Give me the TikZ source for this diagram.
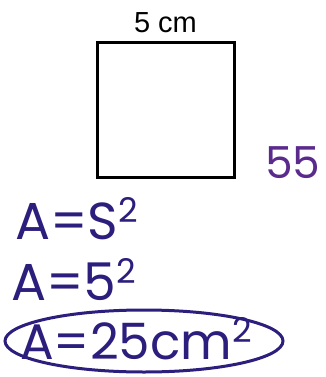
\documentclass[tikz,border=0pt]{standalone}
\usepackage{fontspec}
\setmainfont{Liberation Sans}
\newfontfamily\handfont{Poppins}
\usetikzlibrary{positioning}
\definecolor{inkblue}{HTML}{2B1E7C}
\definecolor{inkpurple}{HTML}{5A2A8C}
\newcommand{\hsup}[1]{{\fontsize{34}{36}\selectfont\raisebox{17pt}{#1}}}
\tikzset{sidebox/.style={draw,line width=3pt,minimum width=137pt,minimum height=134pt,inner sep=0pt}}
\tikzset{label/.style={font=\fontsize{29}{31}\selectfont,inner sep=0pt}}
\tikzset{hand/.style={text=inkblue,font=\handfont\fontsize{52}{56}\selectfont,inner sep=0pt,anchor=west}}

\begin{document}
\begin{tikzpicture}[x=1pt,y=-1pt]
    \useasboundingbox (0,0) rectangle (325,377);
    \node[sidebox] (sq) at (165.5,110) {};
    \node[label,above=9pt of sq] (side) {5 cm};

    \node[hand,text=inkpurple,font=\handfont\fontsize{44}{48}\selectfont] (note) at (265,163) {55};

    \node[hand] (eq1) at (15,219) {A=S\hsup{2}};
    \node[hand] (eq2) at (11,280) {A=5\hsup{2}};
    \node[hand,font=\handfont\fontsize{50}{53}\selectfont] (eq3) at (20,339) {A=25cm\hsup{2}};

    \draw[inkblue,line width=3pt] (144,341) ellipse (139pt and 31pt);
\end{tikzpicture}
\end{document}
